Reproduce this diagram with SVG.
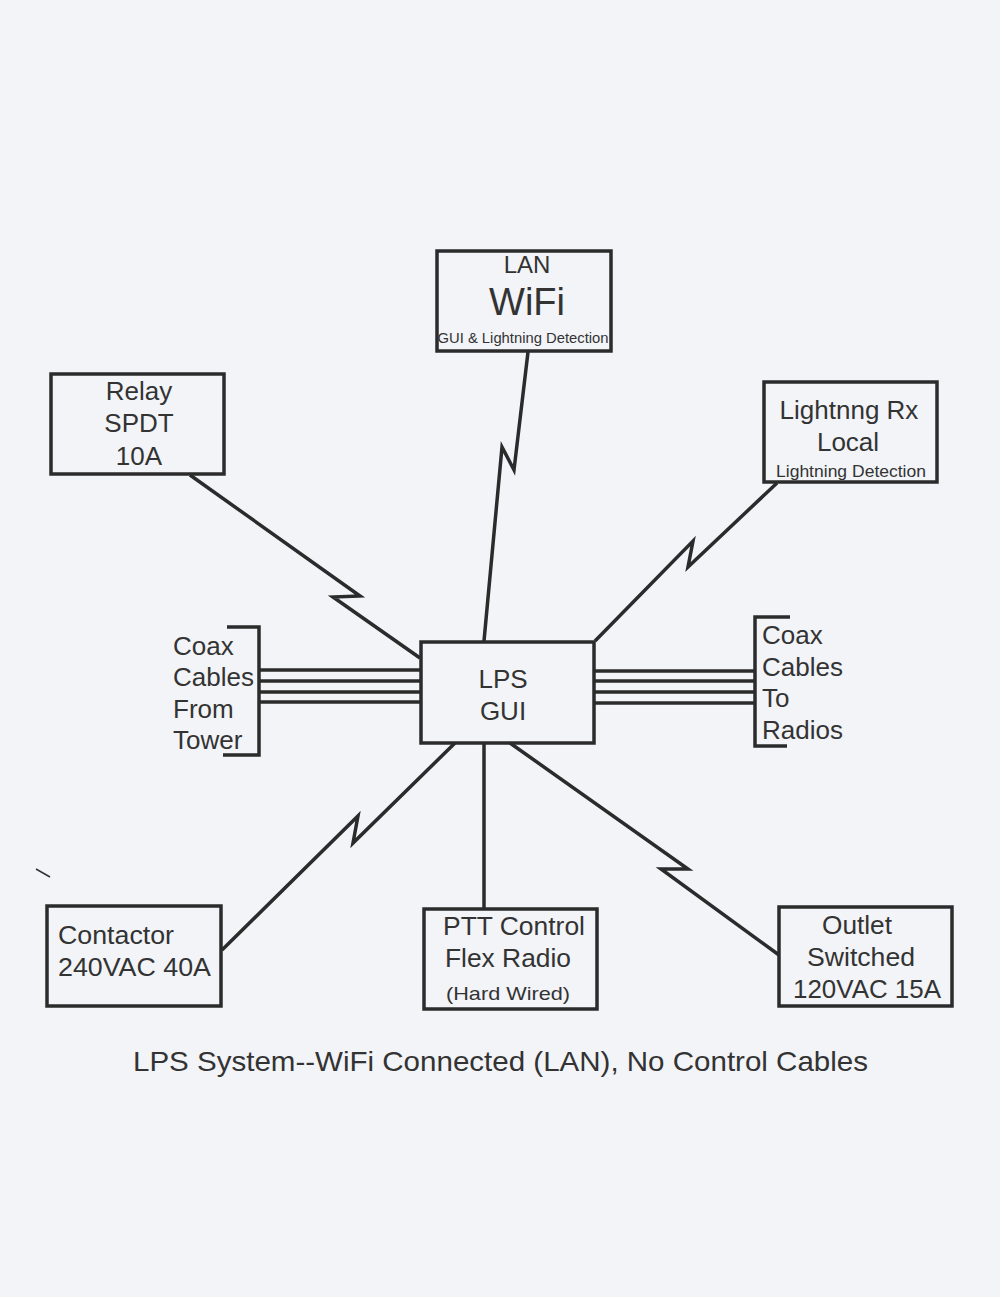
<svg xmlns="http://www.w3.org/2000/svg" width="1000" height="1297" viewBox="0 0 1000 1297">
<style>
.box{fill:none;stroke:#2b2b2b;stroke-width:3.5}
.ln{fill:none;stroke:#2b2b2b;stroke-width:3.5;stroke-linejoin:miter}
.t{font-family:"Liberation Sans",Arial,sans-serif;fill:#333;font-size:26px}
.c{text-anchor:middle}
</style>
<rect width="1000" height="1297" fill="#f2f4f8"/>
<g id="connectors">
<polyline class="ln" points="528,352 514,470 502,447 484,641"/>
<polyline class="ln" points="190,475 360,596 333,597 420,658"/>
<polyline class="ln" points="777,483 688,567 693,541 595,641"/>
<polyline class="ln" points="455,743 353,843 358,816 222,950"/>
<line class="ln" x1="484" y1="743" x2="484" y2="908"/>
<polyline class="ln" points="510,743 688,869 661,869 779,955"/>
<g id="coax-left">
<line class="ln" x1="260" y1="670" x2="420" y2="670"/>
<line class="ln" x1="260" y1="681" x2="420" y2="681"/>
<line class="ln" x1="260" y1="692" x2="420" y2="692"/>
<line class="ln" x1="260" y1="702" x2="420" y2="702"/>
<polyline class="ln" points="227,627 259,627 259,755 223,755"/>
</g>
<g id="coax-right">
<line class="ln" x1="595" y1="671" x2="755" y2="671"/>
<line class="ln" x1="595" y1="681" x2="755" y2="681"/>
<line class="ln" x1="595" y1="692" x2="755" y2="692"/>
<line class="ln" x1="595" y1="703" x2="755" y2="703"/>
<polyline class="ln" points="790,617 755,617 755,746 787,746"/>
</g>
</g>
<g id="lan">
<rect class="box" x="437" y="251" width="174" height="100"/>
<text class="t c" x="527" y="273" style="font-size:24px">LAN</text>
<text class="t c" x="527" y="315" style="font-size:38px">WiFi</text>
<text class="t c" x="523" y="343" style="font-size:14px" textLength="171" lengthAdjust="spacingAndGlyphs">GUI &amp; Lightning Detection</text>
</g>
<g id="relay">
<rect class="box" x="51" y="374" width="173" height="100"/>
<text class="t c" x="139" y="400">Relay</text>
<text class="t c" x="139" y="432">SPDT</text>
<text class="t c" x="139" y="465">10A</text>
</g>
<g id="lightning">
<rect class="box" x="764" y="382" width="173" height="100"/>
<text class="t c" x="849" y="419">Lightnng Rx</text>
<text class="t c" x="848" y="451">Local</text>
<text class="t c" x="851" y="477" style="font-size:17px" textLength="150" lengthAdjust="spacingAndGlyphs">Lightning Detection</text>
</g>
<g id="lps">
<rect class="box" x="421" y="642" width="173" height="101"/>
<text class="t c" x="503" y="688">LPS</text>
<text class="t c" x="503" y="720">GUI</text>
</g>
<g id="coax-from">
<text class="t" x="173" y="655">Coax</text>
<text class="t" x="173" y="686">Cables</text>
<text class="t" x="173" y="718">From</text>
<text class="t" x="173" y="749">Tower</text>
</g>
<g id="coax-to">
<text class="t" x="762" y="644">Coax</text>
<text class="t" x="762" y="676">Cables</text>
<text class="t" x="762" y="707">To</text>
<text class="t" x="762" y="739">Radios</text>
</g>
<g id="contactor">
<rect class="box" x="47" y="906" width="174" height="100"/>
<text class="t" x="58" y="944" textLength="116" lengthAdjust="spacingAndGlyphs">Contactor</text>
<text class="t" x="58" y="976" textLength="153" lengthAdjust="spacingAndGlyphs">240VAC 40A</text>
</g>
<g id="ptt">
<rect class="box" x="424" y="909" width="173" height="100"/>
<text class="t c" x="514" y="935" textLength="142" lengthAdjust="spacingAndGlyphs">PTT Control</text>
<text class="t c" x="508" y="967" textLength="126" lengthAdjust="spacingAndGlyphs">Flex Radio</text>
<text class="t c" x="508" y="1000" style="font-size:19px" textLength="124" lengthAdjust="spacingAndGlyphs">(Hard Wired)</text>
</g>
<g id="outlet">
<rect class="box" x="779" y="907" width="173" height="99"/>
<text class="t c" x="857" y="934" textLength="70" lengthAdjust="spacingAndGlyphs">Outlet</text>
<text class="t c" x="861" y="966" textLength="108" lengthAdjust="spacingAndGlyphs">Switched</text>
<text class="t c" x="867" y="998" textLength="148" lengthAdjust="spacingAndGlyphs">120VAC 15A</text>
</g>
<text class="t" x="133" y="1071" style="font-size:28px" textLength="735" lengthAdjust="spacingAndGlyphs">LPS System--WiFi Connected (LAN), No Control Cables</text>
<line x1="36" y1="869" x2="50" y2="877" stroke="#333" stroke-width="1.5"/>
</svg>
